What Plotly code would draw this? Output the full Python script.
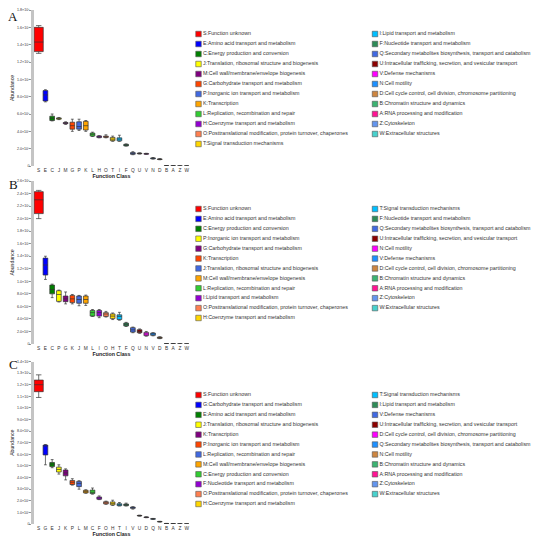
import plotly.graph_objects as go

# The page adds an 8 px body margin, so the figure is sized to fill the rest of the window
OFF = 8
W, H = 550 - OFF, 539 - OFF

# ---------------- shared ----------------
palette = ["#FF0000", "#0000FF", "#008000", "#FFFF00", "#800080", "#FF4500", "#4169E1",
           "#FFA500", "#32CD32", "#9400D3", "#FF7F50", "#FFD700", "#00BFFF", "#2E8B57",
           "#4169E1", "#8B0000", "#FF00FF", "#1E90FF", "#CD853F", "#3CB371", "#FF1493",
           "#6495ED", "#48D1CC"]

# ---------------- panel A (values in millions) ----------------
A_cats = ["S", "E", "C", "J", "M", "G", "P", "K", "L", "H", "O", "T", "I", "F", "Q", "U", "V", "N", "D", "B", "A", "Z", "W"]
A_names = ["Function unknown", "Amino acid transport and metabolism", "Energy production and conversion",
           "Translation, ribosomal structure and biogenesis", "Cell wall/membrane/envelope biogenesis",
           "Carbohydrate transport and metabolism", "Inorganic ion transport and metabolism", "Transcription",
           "Replication, recombination and repair", "Coenzyme transport and metabolism",
           "Posttranslational modification, protein turnover, chaperones", "Signal transduction mechanisms",
           "Lipid transport and metabolism", "Nucleotide transport and metabolism",
           "Secondary metabolites biosynthesis, transport and catabolism",
           "Intracellular trafficking, secretion, and vesicular transport", "Defense mechanisms",
           "Cell motility", "Cell cycle control, cell division, chromosome partitioning",
           "Chromatin structure and dynamics", "RNA processing and modification", "Cytoskeleton",
           "Extracellular structures"]
A_lo  = [13.0, 7.4, 5.2, 5.35, 4.8, 4.0, 4.1, 4.0, 3.4, 3.25, 3.25, 2.85, 2.85, 2.3, 1.3, 1.38, 1.35, 0.80, 0.72, 0.02, 0.015, 0.004, 0.002]
A_q1  = [13.2, 7.5, 5.25, 5.4, 4.88, 4.25, 4.25, 4.15, 3.45, 3.28, 3.3, 2.92, 2.9, 2.32, 1.35, 1.41, 1.37, 0.83, 0.75, 0.025, 0.018, 0.005, 0.003]
A_med = [14.3, 8.2, 5.5, 5.48, 4.95, 4.65, 4.55, 4.65, 3.65, 3.37, 3.38, 3.1, 3.1, 2.42, 1.45, 1.45, 1.40, 0.88, 0.78, 0.03, 0.02, 0.006, 0.0035]
A_q3  = [16.0, 8.7, 5.75, 5.55, 5.02, 5.05, 5.1, 5.15, 3.8, 3.47, 3.45, 3.3, 3.25, 2.5, 1.55, 1.48, 1.44, 0.93, 0.81, 0.035, 0.022, 0.007, 0.004]
A_hi  = [16.2, 8.8, 6.0, 5.6, 5.1, 5.4, 5.4, 5.25, 3.9, 3.5, 3.6, 3.45, 3.55, 2.55, 1.65, 1.52, 1.47, 0.98, 0.85, 0.04, 0.025, 0.008, 0.005]
A_tickvals = [0, 2, 4, 6, 8, 10, 12, 14, 16, 18]
A_ticktext = ["0", "2.0×10⁶", "4.0×10⁶", "6.0×10⁶", "8.0×10⁶", "1.0×10⁷", "1.2×10⁷", "1.4×10⁷", "1.6×10⁷", "1.8×10⁷"]

# ---------------- panel B ----------------
B_cats = ["S", "E", "C", "P", "G", "K", "J", "M", "L", "I", "O", "H", "T", "F", "Q", "U", "N", "V", "D", "B", "A", "Z", "W"]
B_names = ["Function unknown", "Amino acid transport and metabolism", "Energy production and conversion",
           "Inorganic ion transport and metabolism", "Carbohydrate transport and metabolism", "Transcription",
           "Translation, ribosomal structure and biogenesis", "Cell wall/membrane/envelope biogenesis",
           "Replication, recombination and repair", "Lipid transport and metabolism",
           "Posttranslational modification, protein turnover, chaperones", "Coenzyme transport and metabolism",
           "Signal transduction mechanisms", "Nucleotide transport and metabolism",
           "Secondary metabolites biosynthesis, transport and catabolism",
           "Intracellular trafficking, secretion, and vesicular transport", "Cell motility",
           "Defense mechanisms", "Cell cycle control, cell division, chromosome partitioning",
           "Chromatin structure and dynamics", "RNA processing and modification", "Cytoskeleton",
           "Extracellular structures"]
B_lo  = [20.0, 10.3, 7.4, 6.7, 6.4, 6.4, 6.1, 6.15, 4.4, 4.2, 4.3, 3.9, 3.8, 2.8, 1.8, 1.7, 1.25, 1.3, 0.85, 0.03, 0.02, 0.008, 0.004]
B_q1  = [20.8, 11.0, 8.0, 6.8, 6.75, 6.6, 6.5, 6.5, 4.45, 4.45, 4.4, 4.05, 3.9, 2.87, 1.9, 1.8, 1.33, 1.38, 0.9, 0.035, 0.025, 0.009, 0.005]
B_med = [23.0, 12.6, 8.7, 7.9, 7.2, 7.2, 7.1, 7.1, 5.0, 5.0, 4.78, 4.45, 4.4, 3.13, 2.25, 2.0, 1.6, 1.6, 1.0, 0.04, 0.03, 0.01, 0.005]
B_q3  = [24.3, 13.7, 9.4, 8.5, 7.65, 7.75, 7.65, 7.65, 5.35, 5.35, 5.0, 4.8, 4.65, 3.34, 2.6, 2.28, 1.85, 1.75, 1.1, 0.045, 0.035, 0.012, 0.006]
B_hi  = [24.5, 14.0, 9.55, 8.6, 8.3, 7.9, 7.75, 7.8, 5.5, 5.5, 5.2, 4.95, 5.05, 3.45, 2.7, 2.4, 2.0, 1.8, 1.15, 0.05, 0.04, 0.014, 0.007]
B_tickvals = [0, 2, 4, 6, 8, 10, 12, 14, 16, 18, 20, 22, 24, 26]
B_ticktext = ["0", "2.0×10⁶", "4.0×10⁶", "6.0×10⁶", "8.0×10⁶", "1.0×10⁷", "1.2×10⁷", "1.4×10⁷",
              "1.6×10⁷", "1.8×10⁷", "2.0×10⁷", "2.2×10⁷", "2.4×10⁷", "2.6×10⁷"]

# ---------------- panel C ----------------
C_cats = ["S", "G", "E", "J", "K", "P", "L", "M", "C", "F", "O", "H", "T", "I", "V", "U", "D", "Q", "N", "B", "A", "Z", "W"]
C_names = ["Function unknown", "Carbohydrate transport and metabolism", "Amino acid transport and metabolism",
           "Translation, ribosomal structure and biogenesis", "Transcription",
           "Inorganic ion transport and metabolism", "Replication, recombination and repair",
           "Cell wall/membrane/envelope biogenesis", "Energy production and conversion",
           "Nucleotide transport and metabolism",
           "Posttranslational modification, protein turnover, chaperones", "Coenzyme transport and metabolism",
           "Signal transduction mechanisms", "Lipid transport and metabolism", "Defense mechanisms",
           "Intracellular trafficking, secretion, and vesicular transport",
           "Cell cycle control, cell division, chromosome partitioning",
           "Secondary metabolites biosynthesis, transport and catabolism", "Cell motility",
           "Chromatin structure and dynamics", "RNA processing and modification", "Cytoskeleton",
           "Extracellular structures"]
C_lo  = [10.9, 5.1, 4.85, 4.3, 3.8, 3.35, 3.0, 2.65, 2.57, 2.1, 1.7, 1.6, 1.55, 1.55, 1.28, 0.68, 0.54, 0.40, 0.17, 0.03, 0.02, 0.008, 0.004]
C_q1  = [11.4, 5.95, 4.95, 4.48, 4.15, 3.4, 3.22, 2.68, 2.62, 2.13, 1.73, 1.65, 1.58, 1.58, 1.35, 0.70, 0.56, 0.42, 0.19, 0.035, 0.022, 0.009, 0.005]
C_med = [12.0, 6.75, 5.15, 4.7, 4.4, 3.6, 3.5, 2.79, 2.73, 2.24, 1.84, 1.78, 1.67, 1.66, 1.40, 0.72, 0.58, 0.44, 0.20, 0.04, 0.025, 0.01, 0.005]
C_q3  = [12.4, 6.8, 5.3, 4.9, 4.65, 3.75, 3.67, 2.9, 2.92, 2.33, 1.92, 1.9, 1.75, 1.72, 1.46, 0.74, 0.60, 0.46, 0.22, 0.045, 0.028, 0.011, 0.006]
C_hi  = [12.85, 6.85, 5.55, 5.1, 4.75, 3.9, 3.73, 2.95, 3.1, 2.42, 1.97, 2.05, 1.85, 1.8, 1.49, 0.76, 0.62, 0.48, 0.23, 0.05, 0.03, 0.012, 0.007]
C_tickvals = [0, 1, 2, 3, 4, 5, 6, 7, 8, 9, 10, 11, 12, 13, 14]
C_ticktext = ["0", "1.0×10⁶", "2.0×10⁶", "3.0×10⁶", "4.0×10⁶", "5.0×10⁶", "6.0×10⁶", "7.0×10⁶",
              "8.0×10⁶", "9.0×10⁶", "1.0×10⁷", "1.1×10⁷", "1.2×10⁷", "1.3×10⁷", "1.4×10⁷"]

MILLION = 1e6
FONT = "Liberation Sans, Arial, sans-serif"


def fx(px):
    """window pixel (x) -> paper fraction"""
    return (px - OFF) / W


def fy(px):
    """window pixel (y) -> paper fraction"""
    return 1 - (px - OFF) / H


panels = [
    dict(letter="A", cats=A_cats, names=A_names, lo=A_lo, q1=A_q1, med=A_med, q3=A_q3, hi=A_hi,
         tv=A_tickvals, tt=A_ticktext, ytop=10, yzero=166, leg0=34, leg11=144, letter_y=16),
    dict(letter="B", cats=B_cats, names=B_names, lo=B_lo, q1=B_q1, med=B_med, q3=B_q3, hi=B_hi,
         tv=B_tickvals, tt=B_ticktext, ytop=181, yzero=344, leg0=209, leg11=318, letter_y=185),
    dict(letter="C", cats=C_cats, names=C_names, lo=C_lo, q1=C_q1, med=C_med, q3=C_q3, hi=C_hi,
         tv=C_tickvals, tt=C_ticktext, ytop=361.5, yzero=524, leg0=395, leg11=504, letter_y=364),
]

fig = go.Figure()
layout = dict(width=W, height=H, margin=dict(l=0, r=0, t=0, b=0, autoexpand=False), showlegend=False,
              paper_bgcolor="white", plot_bgcolor="white", font=dict(family=FONT, color="#222"),
              annotations=[])

for p_i, p in enumerate(panels):
    k = p_i + 1
    xa = "x" if k == 1 else f"x{k}"
    ya = "y" if k == 1 else f"y{k}"
    ymax = p["tv"][-1]
    for i, c in enumerate(p["cats"]):
        fig.add_trace(go.Box(
            x=[c], q1=[p["q1"][i] * MILLION], median=[p["med"][i] * MILLION], q3=[p["q3"][i] * MILLION],
            lowerfence=[p["lo"][i] * MILLION], upperfence=[p["hi"][i] * MILLION],
            fillcolor=palette[i], line=dict(color="#333333", width=0.7),
            width=1.35 if i == 0 else 0.7, whiskerwidth=0.6,
            xaxis=xa, yaxis=ya, hoverinfo="skip"))
    # axes
    layout["xaxis" if k == 1 else f"xaxis{k}"] = dict(
        domain=[fx(34), fx(189)], anchor=ya, type="category", automargin=False,
        categoryorder="array", categoryarray=p["cats"], range=[-0.7, 22.35],
        showgrid=False, zeroline=False, showline=False, ticks="",
        tickfont=dict(size=4.8, color="#333"), ticklabelstandoff=0,
        title=dict(text="Function Class", font=dict(size=5.3, weight="bold", color="#222"), standoff=0))
    layout["yaxis" if k == 1 else f"yaxis{k}"] = dict(
        domain=[fy(p["yzero"]), fy(p["ytop"])], anchor=xa, range=[0, ymax * MILLION], automargin=False,
        tickvals=[v * MILLION for v in p["tv"]], ticktext=p["tt"],
        showgrid=False, zeroline=False, showline=True, linecolor="#c4c4c4", linewidth=2.5,
        ticks="outside", ticklen=2, tickwidth=0.8, tickcolor="#999", ticklabelstandoff=-1,
        tickfont=dict(size=3.6, color="#333"),
        title=dict(text="Abundance", font=dict(size=5.2, color="#222"), standoff=3))
    layout["annotations"].append(dict(
        text=p["letter"], x=fx(13), y=fy(p["letter_y"]), xref="paper", yref="paper",
        xanchor="center", yanchor="middle",
        showarrow=False, font=dict(family="Liberation Serif, Times New Roman, serif", size=13, color="#111")))

    # legend drawn as a small two-column key on its own axes
    lk = k + 3
    lxa, lya = f"x{lk}", f"y{lk}"
    n = len(p["cats"])
    rows = [i if i < 12 else i - 12 for i in range(n)]
    cols = [8.5 if i < 12 else 185 for i in range(n)]
    texts = [f"{p['cats'][i]}:{p['names'][i]}" for i in range(n)]
    fig.add_trace(go.Scatter(
        x=cols, y=rows, mode="markers+text", text=texts, textposition="middle right",
        marker=dict(symbol="square", size=5.5, color=palette[:n], line=dict(color="#555", width=0.6)),
        textfont=dict(size=5.3, color="#333", family=FONT),
        xaxis=lxa, yaxis=lya, hoverinfo="skip", cliponaxis=False))
    step = (p["leg11"] - p["leg0"]) / 11
    layout[f"xaxis{lk}"] = dict(domain=[fx(190), 1], range=[0, 360], visible=False, anchor=lya)
    layout[f"yaxis{lk}"] = dict(domain=[fy(p["leg11"] + step / 2), fy(p["leg0"] - step / 2)],
                                range=[11.5, -0.5], visible=False, anchor=lxa)

fig.update_layout(**layout)
fig.write_html("out.html")
